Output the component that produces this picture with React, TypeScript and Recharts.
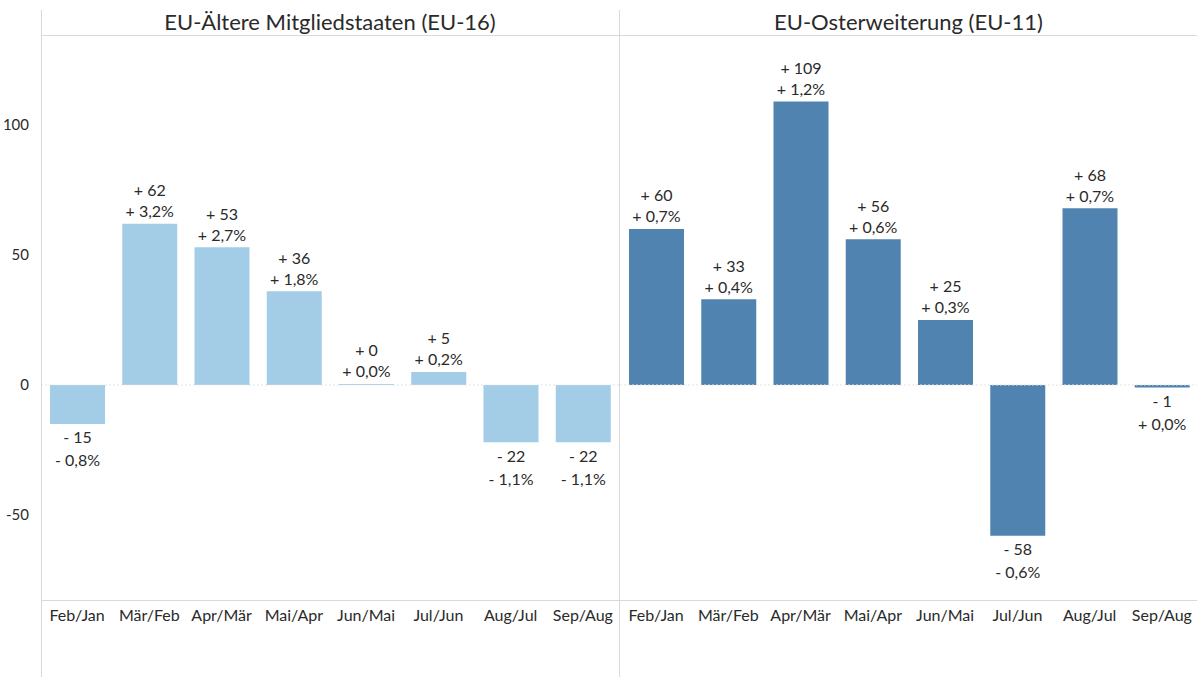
import React from "react";
import { BarChart, Bar, XAxis, YAxis, ReferenceLine, LabelList } from "recharts";

const categories = ["Feb/Jan", "Mär/Feb", "Apr/Mär", "Mai/Apr", "Jun/Mai", "Jul/Jun", "Aug/Jul", "Sep/Aug"];
const eu16Values = [-15, 62, 53, 36, 0, 5, -22, -22];
const eu16Pct = [-0.8, 3.2, 2.7, 1.8, 0.0, 0.2, -1.1, -1.1];
const eu11Values = [60, 33, 109, 56, 25, -58, 68, -1];
const eu11Pct = [0.7, 0.4, 1.2, 0.6, 0.3, -0.6, 0.7, 0.0];
const yTicks = [-50, 0, 50, 100];
const titles = ["EU-Ältere Mitgliedstaaten (EU-16)", "EU-Osterweiterung (EU-11)"];

const FONT = "Lato, 'Liberation Sans', sans-serif";
const TEXT = "#2a2a2a";
const LINE = "#d9d9d9";
const DOMAIN: [number, number] = [-82.7, 134.6];

const fmtNum = (v: number) => (v >= 0 ? `+ ${v}` : `- ${Math.abs(v)}`);
const fmtPct = (p: number) => (p >= 0 ? "+ " : "- ") + Math.abs(p).toFixed(1).replace(".", ",") + "%";

const build = (vals: number[], pcts: number[]) =>
  categories.map((c, i) => ({ cat: c, value: vals[i], pct: pcts[i] }));

const makeLabel = (data: { cat: string; value: number; pct: number }[]) => (props: any) => {
  const { x, y, width, height, value } = props;
  const d = data.find((e) => e.cat === value);
  if (!d) return null;
  const top = Math.min(y, y + height);
  const bottom = Math.max(y, y + height);
  const cx = x + width / 2;
  const pos = d.value >= 0;
  const y1 = pos ? top - 34 : bottom + 13;
  const y2 = pos ? top - 13 : bottom + 36;
  return (
    <g>
      <text x={cx} y={y1} textAnchor="middle" dominantBaseline="central" fontSize={16} fill={TEXT} fontFamily={FONT}>
        {fmtNum(d.value)}
      </text>
      <text x={cx} y={y2} textAnchor="middle" dominantBaseline="central" fontSize={16} fill={TEXT} fontFamily={FONT}>
        {fmtPct(d.pct)}
      </text>
    </g>
  );
};

const Panel = ({ data, color, withY, width }: { data: any[]; color: string; withY: boolean; width: number }) => (
  <BarChart width={width} height={677} data={data} margin={{ top: 35, right: 0, bottom: 0, left: 0 }}>
    <ReferenceLine y={0} stroke="#e3e3e3" strokeDasharray="2 2" />
    <XAxis
      dataKey="cat"
      height={77}
      tickLine={false}
      axisLine={false}
      interval={0}
      tickMargin={4}
      tick={{ fontSize: 16, fill: TEXT, fontFamily: FONT }}
    />
    <YAxis
      hide={!withY}
      width={41}
      domain={DOMAIN}
      allowDataOverflow
      ticks={yTicks}
      tickLine={false}
      axisLine={false}
      tickMargin={6}
      tick={{ fontSize: 15, fill: TEXT, fontFamily: FONT }}
    />
    <Bar dataKey="value" fill={color} barSize={55} minPointSize={1} isAnimationActive={false}>
      <LabelList dataKey="cat" content={makeLabel(data)} />
    </Bar>
  </BarChart>
);

export default function App() {
  const left = build(eu16Values, eu16Pct);
  const right = build(eu11Values, eu11Pct);
  return (
    <div style={{ position: "absolute", left: 0, top: 0, width: 1197, height: 677, background: "#fff", fontFamily: FONT, overflow: "hidden" }}>
      <div style={{ position: "absolute", left: 0, top: 0 }}>
        <Panel data={left} color="#a3cce6" withY={true} width={619} />
      </div>
      <div style={{ position: "absolute", left: 620, top: 0 }}>
        <Panel data={right} color="#5183b1" withY={false} width={578} />
      </div>
      <div style={{ position: "absolute", left: 41, top: 35, width: 1156, height: 1, background: LINE }} />
      <div style={{ position: "absolute", left: 41, top: 600, width: 1156, height: 1, background: LINE }} />
      <div style={{ position: "absolute", left: 41, top: 10, width: 1, height: 667, background: LINE }} />
      <div style={{ position: "absolute", left: 619, top: 10, width: 1, height: 667, background: LINE }} />
      <div style={{ position: "absolute", left: 41, top: 9, width: 578, height: 26, lineHeight: "26px", textAlign: "center", fontSize: 22, color: TEXT }}>
        {titles[0]}
      </div>
      <div style={{ position: "absolute", left: 620, top: 9, width: 577, height: 26, lineHeight: "26px", textAlign: "center", fontSize: 22, color: TEXT }}>
        {titles[1]}
      </div>
    </div>
  );
}
